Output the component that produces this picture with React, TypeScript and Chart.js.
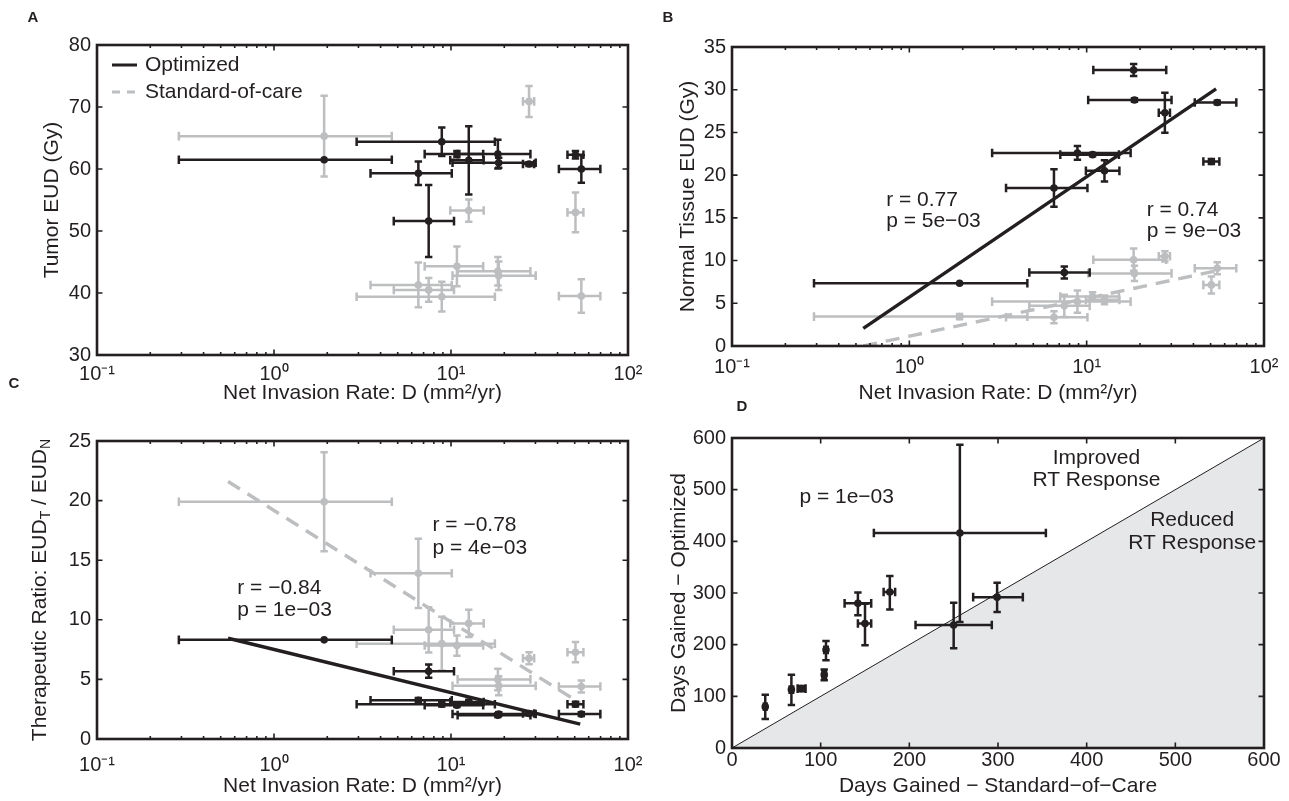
import React, { useEffect, useRef } from 'react';
import { Chart, registerables } from 'chart.js';

Chart.register(...registerables);

const FONT = '"Liberation Sans", Arial, Helvetica, sans-serif';
const INK = '#231f20';
const GREY = '#bcbec0';
const SHADE = '#e6e7e8';
const PAGE_W = 1289;
const PAGE_H = 801;

// ---------- shared x data: net invasion rate D (mm²/yr), 11 patients ----------
const invasionRate = [1.92, 8.87, 10.8, 12.6, 18.4, 18.6, 27.6, 50.5, 54.5, 6.54, 7.48];
const invasionLow = [0.29, 2.93, 7.1, 9.9, 10.9, 10.2, 25.5, 45.5, 40.7, 3.51, 4.75];
const invasionHigh = [4.63, 17.7, 15.2, 15.3, 28.1, 30.1, 29.5, 56.0, 69.8, 10.1, 10.4];

// ---------- panel A: tumor EUD (Gy) ----------
const tumorOptimized = [61.5, 64.4, 62.4, 61.4, 62.4, 61.0, 60.8, 62.3, 60.0, 59.3, 51.6];
const tumorOptimizedErr = [0, 2.3, 0.5, 5.5, 2.3, 0.8, 0.3, 0.6, 2.2, 1.9, 5.8];
const tumorStandard = [65.3, 39.4, 44.3, 53.3, 43.5, 42.8, 70.9, 53.0, 39.5, 41.3, 40.5];
const tumorStandardErr = [6.5, 2.4, 3.2, 1.8, 2.3, 2.3, 2.5, 3.2, 2.7, 3.6, 1.9];

// ---------- panel B: normal tissue EUD (Gy) ----------
const normalOptimized = [7.34, 22.6, 22.4, 20.5, 32.3, 28.8, 27.3, 21.6, 28.5, 18.5, 8.6];
const normalOptimizedErr = [0, 0.8, 0.2, 1.25, 0.7, 0.2, 2.35, 0.3, 0.2, 2.2, 0.7];
const normalStandard = [3.44, 5.2, 5.8, 5.4, 10.1, 8.5, 10.5, 7.15, 9.1, 3.36, 4.7];
const normalStandardErr = [0.3, 1.3, 0.5, 0.5, 1.3, 0.9, 0.6, 1.0, 0.7, 0.7, 1.3];

// ---------- panel C: therapeutic ratio ----------
const ratioOptimized = [8.32, 2.92, 2.84, 3.1, 2.0, 2.1, 2.14, 2.92, 2.09, 3.25, 5.69];
const ratioOptimizedErr = [0, 0.2, 0.15, 0.2, 0.15, 0.15, 0.15, 0.2, 0.15, 0.2, 0.55];
const ratioStandard = [19.9, 8.0, 7.84, 9.7, 5.0, 4.46, 6.78, 7.28, 4.4, 13.9, 9.16];
const ratioStandardErr = [4.15, 2.25, 0.85, 1.15, 0.9, 0.8, 0.5, 0.85, 0.5, 2.9, 1.9];

// ---------- fitted trend lines (log-linear) ----------
const fitRange = [0.55, 53.7];
const normalOptimizedFit = [2.07, 30.1];
const normalStandardFit = [0.0, 8.8];
const ratioOptimizedFit = [8.45, 1.25];
const ratioStandardFit = [21.6, 3.0];

// ---------- panel D: days gained ----------
const daysStandard = [257, 142, 150, 178, 250, 299, 106, 104, 67, 78, 37.5];
const daysStandardLow = [160, 127, 142, 171, 207, 272, 104, 102, 65, 74, 36];
const daysStandardHigh = [354, 157, 157, 184, 293, 328, 108, 106, 69, 83, 39];
const daysOptimized = [416, 280, 241, 302, 238, 292, 190, 142, 113, 115, 80];
const daysOptimizedLow = [244, 257, 199, 268, 193, 263, 170, 131, 83, 110, 56];
const daysOptimizedHigh = [587, 301, 279, 333, 281, 320, 207, 152, 142, 120, 103];
const parityLine = [0, 600];

// ---------- ticks ----------
const logTicks = [0.1, 1, 10, 100];
const logTickLabels = ['10⁻¹', '10⁰', '10¹', '10²'];
const tumorTicks = [30, 40, 50, 60, 70, 80];
const normalTicks = [0, 5, 10, 15, 20, 25, 30, 35];
const ratioTicks = [0, 5, 10, 15, 20, 25];
const dayTicks = [0, 100, 200, 300, 400, 500, 600];

type Seg = { t: string; sub?: boolean };
type Note = { x: number; y: number; text: string; align?: CanvasTextAlign };
type Spec = {
  key: string;
  letter: string;
  letterX: number;
  letterY: number;
  area: { left: number; top: number; right: number; bottom: number };
  xLog: boolean;
  xMin: number;
  xMax: number;
  xTicks: number[];
  xLabels?: string[];
  yMin: number;
  yMax: number;
  yTicks: number[];
  xTitle: string;
  xTitleY: number;
  yTitle: Seg[];
  yTitleX: number;
  xLabelPad: number;
  datasets: any[];
  notes: Note[];
  legend?: boolean;
};

const pts = (xs: number[], ys: number[]) => xs.map((x, i) => ({ x, y: ys[i] }));
const symBars = (lo: number[], hi: number[], ys: number[], err: number[]) =>
  ys.map((y, i) => ({ xMin: lo[i], xMax: hi[i], yMin: y - err[i], yMax: y + err[i] }));

function markers(label: string, color: string, xs: number[], ys: number[], bars: any[], order: number) {
  return {
    label,
    data: pts(xs, ys),
    errorBars: bars,
    backgroundColor: color,
    borderColor: color,
    pointRadius: 3.8,
    pointBorderWidth: 0,
    showLine: false,
    order,
  };
}

function fitLine(label: string, color: string, xs: number[], ys: number[], dash: number[], order: number) {
  return {
    label,
    data: pts(xs, ys),
    showLine: true,
    borderColor: color,
    borderWidth: 3.4,
    borderDash: dash,
    borderCapStyle: 'butt',
    pointRadius: 0,
    fill: false,
    order,
  };
}

const panels: Spec[] = [
  {
    key: 'A',
    letter: 'A',
    letterX: 33,
    letterY: 18,
    area: { left: 97, top: 45, right: 628, bottom: 355 },
    xLog: true,
    xMin: 0.1,
    xMax: 100,
    xTicks: logTicks,
    xLabels: logTickLabels,
    yMin: 30,
    yMax: 80,
    yTicks: tumorTicks,
    xTitle: 'Net Invasion Rate: D (mm²/yr)',
    xTitleY: 393,
    yTitle: [{ t: 'Tumor EUD (Gy)' }],
    yTitleX: 52,
    xLabelPad: 7,
    legend: true,
    datasets: [
      markers('Standard-of-care', GREY, invasionRate, tumorStandard,
        symBars(invasionLow, invasionHigh, tumorStandard, tumorStandardErr), 3),
      markers('Optimized', INK, invasionRate, tumorOptimized,
        symBars(invasionLow, invasionHigh, tumorOptimized, tumorOptimizedErr), 1),
    ],
    notes: [],
  },
  {
    key: 'B',
    letter: 'B',
    letterX: 668,
    letterY: 18,
    area: { left: 732, top: 47, right: 1264, bottom: 346 },
    xLog: true,
    xMin: 0.1,
    xMax: 100,
    xTicks: logTicks,
    xLabels: logTickLabels,
    yMin: 0,
    yMax: 35,
    yTicks: normalTicks,
    xTitle: 'Net Invasion Rate: D (mm²/yr)',
    xTitleY: 393,
    yTitle: [{ t: 'Normal Tissue EUD (Gy)' }],
    yTitleX: 688,
    xLabelPad: 9,
    datasets: [
      markers('Standard-of-care', GREY, invasionRate, normalStandard,
        symBars(invasionLow, invasionHigh, normalStandard, normalStandardErr), 4),
      fitLine('Standard-of-care fit', GREY, fitRange, normalStandardFit, [14, 9], 3),
      markers('Optimized', INK, invasionRate, normalOptimized,
        symBars(invasionLow, invasionHigh, normalOptimized, normalOptimizedErr), 2),
      fitLine('Optimized fit', INK, fitRange, normalOptimizedFit, [], 1),
    ],
    notes: [
      { x: 0.74, y: 17.1, text: 'r = 0.77' },
      { x: 0.74, y: 14.6, text: 'p = 5e−03' },
      { x: 21.8, y: 15.9, text: 'r = 0.74' },
      { x: 21.8, y: 13.4, text: 'p = 9e−03' },
    ],
  },
  {
    key: 'C',
    letter: 'C',
    letterX: 14,
    letterY: 384,
    area: { left: 97, top: 441, right: 628, bottom: 739 },
    xLog: true,
    xMin: 0.1,
    xMax: 100,
    xTicks: logTicks,
    xLabels: logTickLabels,
    yMin: 0,
    yMax: 25,
    yTicks: ratioTicks,
    xTitle: 'Net Invasion Rate: D (mm²/yr)',
    xTitleY: 786,
    yTitle: [{ t: 'Therapeutic Ratio: EUD' }, { t: 'T', sub: true }, { t: ' / EUD' }, { t: 'N', sub: true }],
    yTitleX: 40,
    xLabelPad: 14,
    datasets: [
      markers('Standard-of-care', GREY, invasionRate, ratioStandard,
        symBars(invasionLow, invasionHigh, ratioStandard, ratioStandardErr), 4),
      fitLine('Standard-of-care fit', GREY, fitRange, ratioStandardFit, [14, 9], 3),
      markers('Optimized', INK, invasionRate, ratioOptimized,
        symBars(invasionLow, invasionHigh, ratioOptimized, ratioOptimizedErr), 2),
      fitLine('Optimized fit', INK, fitRange, ratioOptimizedFit, [], 1),
    ],
    notes: [
      { x: 7.86, y: 17.9, text: 'r = −0.78' },
      { x: 7.86, y: 15.97, text: 'p = 4e−03' },
      { x: 0.62, y: 12.69, text: 'r = −0.84' },
      { x: 0.62, y: 10.78, text: 'p = 1e−03' },
    ],
  },
  {
    key: 'D',
    letter: 'D',
    letterX: 742,
    letterY: 407,
    area: { left: 732, top: 438, right: 1264, bottom: 748 },
    xLog: false,
    xMin: 0,
    xMax: 600,
    xTicks: dayTicks,
    yMin: 0,
    yMax: 600,
    yTicks: dayTicks,
    xTitle: 'Days Gained − Standard−of−Care',
    xTitleY: 786,
    yTitle: [{ t: 'Days Gained − Optimized' }],
    yTitleX: 679,
    xLabelPad: 0,
    datasets: [
      {
        label: 'Parity',
        data: pts(parityLine, parityLine),
        showLine: true,
        borderColor: INK,
        borderWidth: 1,
        pointRadius: 0,
        fill: 'start',
        backgroundColor: SHADE,
        order: 5,
      },
      markers('Patients', INK, daysStandard, daysOptimized,
        daysStandard.map((_, i) => ({
          xMin: daysStandardLow[i],
          xMax: daysStandardHigh[i],
          yMin: daysOptimizedLow[i],
          yMax: daysOptimizedHigh[i],
        })), 1),
    ],
    notes: [
      { x: 76, y: 485, text: 'p = 1e−03' },
      { x: 411, y: 561, text: 'Improved', align: 'center' },
      { x: 411, y: 519, text: 'RT Response', align: 'center' },
      { x: 519, y: 441, text: 'Reduced', align: 'center' },
      { x: 519, y: 396, text: 'RT Response', align: 'center' },
    ],
  },
];

const Y_AXIS_W = 60;
const X_AXIS_H = 40;
const TEXT_PX = 21;
const TICK_PX = 20;

function makePlugin(spec: Spec) {
  return {
    id: 'matlabLook' + spec.key,
    beforeDatasetDraw(chart: any, args: any) {
      const ds: any = chart.data.datasets[args.index];
      if (!ds || !ds.errorBars) return;
      const { ctx, chartArea: a } = chart;
      const xs = chart.scales.x;
      const ys = chart.scales.y;
      ctx.save();
      ctx.beginPath();
      ctx.rect(a.left, a.top, a.right - a.left, a.bottom - a.top);
      ctx.clip();
      ctx.strokeStyle = ds.borderColor;
      ctx.lineWidth = 2.5;
      ctx.setLineDash([]);
      const capX = 4.3;
      const capY = 3.7;
      ds.errorBars.forEach((e: any, i: number) => {
        const p = ds.data[i];
        const px = xs.getPixelForValue(p.x);
        const py = ys.getPixelForValue(p.y);
        ctx.beginPath();
        if (e.xMax > e.xMin) {
          const x0 = xs.getPixelForValue(e.xMin);
          const x1 = xs.getPixelForValue(e.xMax);
          ctx.moveTo(x0, py);
          ctx.lineTo(x1, py);
          ctx.moveTo(x0, py - capX);
          ctx.lineTo(x0, py + capX);
          ctx.moveTo(x1, py - capX);
          ctx.lineTo(x1, py + capX);
        }
        if (e.yMax > e.yMin) {
          const y0 = ys.getPixelForValue(e.yMin);
          const y1 = ys.getPixelForValue(e.yMax);
          ctx.moveTo(px, y0);
          ctx.lineTo(px, y1);
          ctx.moveTo(px - capY, y0);
          ctx.lineTo(px + capY, y0);
          ctx.moveTo(px - capY, y1);
          ctx.lineTo(px + capY, y1);
        }
        ctx.stroke();
      });
      ctx.restore();
    },
    afterDatasetsDraw(chart: any) {
      const { ctx, chartArea: a } = chart;
      const xs = chart.scales.x;
      const ys = chart.scales.y;
      const major = 5.5;
      const minor = 3;
      ctx.save();
      ctx.strokeStyle = INK;
      ctx.setLineDash([]);
      ctx.lineWidth = 1.6;
      ctx.beginPath();
      const xTick = (v: number, len: number) => {
        const px = xs.getPixelForValue(v);
        ctx.moveTo(px, a.bottom);
        ctx.lineTo(px, a.bottom - len);
        ctx.moveTo(px, a.top);
        ctx.lineTo(px, a.top + len);
      };
      const yTick = (v: number, len: number) => {
        const py = ys.getPixelForValue(v);
        ctx.moveTo(a.left, py);
        ctx.lineTo(a.left + len, py);
        ctx.moveTo(a.right, py);
        ctx.lineTo(a.right - len, py);
      };
      spec.xTicks.forEach((v) => xTick(v, major));
      if (spec.xLog) {
        for (let d = spec.xMin; d < spec.xMax * 0.999; d *= 10) {
          for (let k = 2; k <= 9; k++) xTick(d * k, minor);
        }
      }
      spec.yTicks.forEach((v) => yTick(v, major));
      ctx.stroke();
      ctx.lineWidth = 2.6;
      ctx.strokeRect(a.left, a.top, a.right - a.left, a.bottom - a.top);
      ctx.restore();
    },
    afterDraw(chart: any) {
      const { ctx, chartArea: a } = chart;
      const xs = chart.scales.x;
      const ys = chart.scales.y;
      ctx.save();
      ctx.fillStyle = INK;
      ctx.textBaseline = 'middle';

      // panel letter
      ctx.font = `bold 15px ${FONT}`;
      ctx.textAlign = 'center';
      ctx.fillText(spec.letter, spec.letterX, spec.letterY);

      // x title
      ctx.font = `${TEXT_PX}px ${FONT}`;
      ctx.textAlign = 'center';
      ctx.fillText(spec.xTitle, (a.left + a.right) / 2, spec.xTitleY);

      // y title (rotated, with optional subscripts)
      const mainFont = `${TEXT_PX}px ${FONT}`;
      const subFont = `14px ${FONT}`;
      let total = 0;
      spec.yTitle.forEach((s) => {
        ctx.font = s.sub ? subFont : mainFont;
        total += ctx.measureText(s.t).width;
      });
      ctx.save();
      ctx.translate(spec.yTitleX, (a.top + a.bottom) / 2);
      ctx.rotate(-Math.PI / 2);
      ctx.textAlign = 'left';
      let cx = -total / 2;
      spec.yTitle.forEach((s) => {
        ctx.font = s.sub ? subFont : mainFont;
        ctx.fillText(s.t, cx, s.sub ? 6 : 0);
        cx += ctx.measureText(s.t).width;
      });
      ctx.restore();

      // annotations in data coordinates
      ctx.font = `${TEXT_PX}px ${FONT}`;
      spec.notes.forEach((n) => {
        ctx.textAlign = n.align || 'left';
        ctx.fillText(n.text, xs.getPixelForValue(n.x), ys.getPixelForValue(n.y));
      });

      // legend (panel A)
      if (spec.legend) {
        const entries = chart.data.datasets.slice().reverse();
        entries.forEach((ds: any, i: number) => {
          const ly = a.top + 20 + i * 27;
          ctx.beginPath();
          ctx.strokeStyle = ds.borderColor;
          ctx.lineWidth = 3;
          ctx.setLineDash(ds.borderColor === GREY ? [8, 7] : []);
          ctx.moveTo(a.left + 15, ly);
          ctx.lineTo(a.left + 40, ly);
          ctx.stroke();
          ctx.setLineDash([]);
          ctx.textAlign = 'left';
          ctx.fillStyle = INK;
          ctx.fillText(ds.label, a.left + 48, ly);
        });
      }
      ctx.restore();
    },
  };
}

function buildConfig(spec: Spec): any {
  const tickFont = { family: FONT, size: TICK_PX };
  return {
    type: 'scatter',
    data: { datasets: spec.datasets },
    options: {
      responsive: false,
      animation: false,
      devicePixelRatio: 1,
      events: [],
      layout: {
        padding: {
          left: spec.area.left - Y_AXIS_W,
          top: spec.area.top,
          right: PAGE_W - spec.area.right,
          bottom: PAGE_H - spec.area.bottom - X_AXIS_H,
        },
      },
      plugins: {
        legend: { display: false },
        tooltip: { enabled: false },
      },
      scales: {
        x: {
          type: spec.xLog ? 'logarithmic' : 'linear',
          min: spec.xMin,
          max: spec.xMax,
          afterFit: (s: any) => {
            s.height = X_AXIS_H;
          },
          afterBuildTicks: (s: any) => {
            s.ticks = spec.xTicks.map((v) => ({ value: v }));
          },
          grid: { display: false, drawTicks: false },
          border: { display: false },
          ticks: {
            autoSkip: false,
            maxRotation: 0,
            minRotation: 0,
            padding: spec.xLabelPad,
            color: INK,
            font: tickFont,
            callback: (v: number) => {
              const i = spec.xTicks.findIndex((t) => Math.abs(t - v) < 1e-9 * Math.max(1, Math.abs(t)));
              if (spec.xLabels) return i >= 0 ? spec.xLabels[i] : '';
              return String(v);
            },
          },
        },
        y: {
          type: 'linear',
          min: spec.yMin,
          max: spec.yMax,
          afterFit: (s: any) => {
            s.width = Y_AXIS_W;
          },
          afterBuildTicks: (s: any) => {
            s.ticks = spec.yTicks.map((v) => ({ value: v }));
          },
          grid: { display: false, drawTicks: false },
          border: { display: false },
          ticks: {
            autoSkip: false,
            padding: 6,
            color: INK,
            font: tickFont,
            callback: (v: number) => String(v),
          },
        },
      },
    },
    plugins: [makePlugin(spec)],
  };
}

function Panel({ spec }: { spec: Spec }) {
  const ref = useRef<HTMLCanvasElement>(null);
  useEffect(() => {
    if (!ref.current) return;
    const chart = new Chart(ref.current, buildConfig(spec));
    return () => chart.destroy();
  }, [spec]);
  return (
    <canvas
      ref={ref}
      width={PAGE_W}
      height={PAGE_H}
      style={{ position: 'absolute', left: 0, top: 0, width: PAGE_W, height: PAGE_H }}
    />
  );
}

export default function App() {
  return (
    <div
      style={{
        position: 'fixed',
        left: 0,
        top: 0,
        width: PAGE_W,
        height: PAGE_H,
        background: '#ffffff',
        overflow: 'hidden',
      }}
    >
      {panels.map((p) => (
        <Panel key={p.key} spec={p} />
      ))}
    </div>
  );
}
